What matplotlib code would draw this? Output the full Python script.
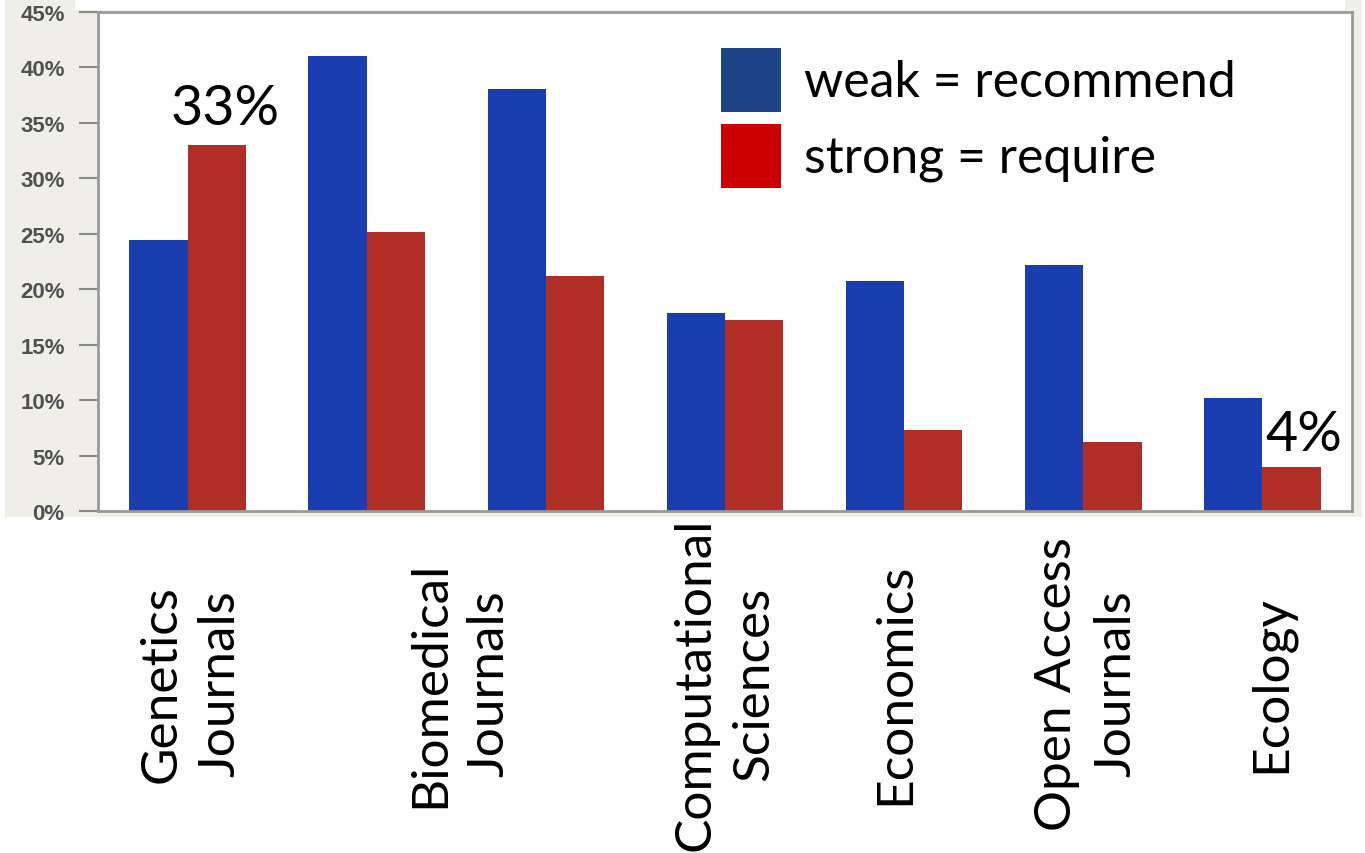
import numpy as np
import matplotlib
matplotlib.use("Agg")
import matplotlib.pyplot as plt
from matplotlib.patches import Rectangle

# share of journals with weak / strong data-sharing policies
weak = [24.4, 41.0, 38.1, 17.9, 20.7, 22.2, 10.2]
strong = [33.0, 25.2, 21.2, 17.2, 7.3, 6.2, 4.0]
labels = ["Genetics\nJournals", "Biomedical\nJournals", "Computational\nSciences",
          "Economics", "Open Access\nJournals", "Ecology"]
label_pos = [0.02, 1.52, 3.0, 3.95, 5.02, 6.05]
yticks = [0, 5, 10, 15, 20, 25, 30, 35, 40, 45]

bar_blue = "#1a3daf"
bar_red = "#b02e26"
leg_blue = "#1e4488"
leg_red = "#cc0000"
FONT = "Lato"

fig = plt.figure(figsize=(13.65, 8.54), dpi=100)
W, H = 1365, 854

# grey panel behind the original chart
fig.patches.append(Rectangle((5 / W, 1 - 518 / H), 1357 / W, 518 / H,
                             transform=fig.transFigure, facecolor="#efefe8",
                             edgecolor="none", zorder=0))
fig.patches.append(Rectangle((75 / W, 1 - 11 / H), 1270 / W, 11 / H,
                             transform=fig.transFigure, facecolor="white",
                             edgecolor="none", zorder=1))

ax = fig.add_axes([98 / W, 1 - 512 / H, 1254 / W, 499 / H], zorder=2)
x = np.arange(len(weak))
bw = 0.325
ax.bar(x - bw / 2, weak, bw, color=bar_blue, zorder=2)
ax.bar(x + bw / 2, strong, bw, color=bar_red, zorder=2)
ax.set_xlim(-0.5, len(weak) - 0.5)
ax.set_ylim(0, 45)
ax.set_yticks(yticks)
ax.set_yticklabels([f"{t}%" for t in yticks], fontsize=16, fontweight="bold",
                   color="#505050", family="Liberation Sans")
ax.tick_params(axis="y", length=14, width=1.5, color="#8a8a8a", pad=10)
ax.set_xticks([])
for s in ax.spines.values():
    s.set_color("#9a9a9a")
    s.set_linewidth(2)

# value callouts
ax.text(x[0] + bw / 2 + 0.05, strong[0] + 1.0, f"{strong[0]:.0f}%", ha="center",
        va="bottom", fontsize=40, family=FONT)
ax.text(x[6] + bw / 2 + 0.07, strong[6] + 0.6, f"{strong[6]:.0f}%", ha="center",
        va="bottom", fontsize=40, family=FONT)

# legend drawn as boxes + text
for i, (c, t) in enumerate([(leg_blue, "weak = recommend"), (leg_red, "strong = require")]):
    y0 = 49 + i * 76
    fig.patches.append(Rectangle((721 / W, 1 - (y0 + 64) / H), 60 / W, 64 / H,
                                 transform=fig.transFigure, facecolor=c,
                                 edgecolor="none", zorder=5))
    fig.text(804 / W, 1 - (y0 + 34) / H, t, ha="left", va="center", fontsize=36,
             family=FONT, zorder=6)

# category labels below the chart
for p, lab in zip(label_pos, labels):
    xf = ax.transData.transform((p, 0))[0] / W
    fig.text(xf, 1 - 684 / H, lab, rotation=90, ha="center", va="center",
             multialignment="center", fontsize=37, family=FONT, linespacing=1.35)

fig.savefig("out.png", dpi=100, facecolor="white")
